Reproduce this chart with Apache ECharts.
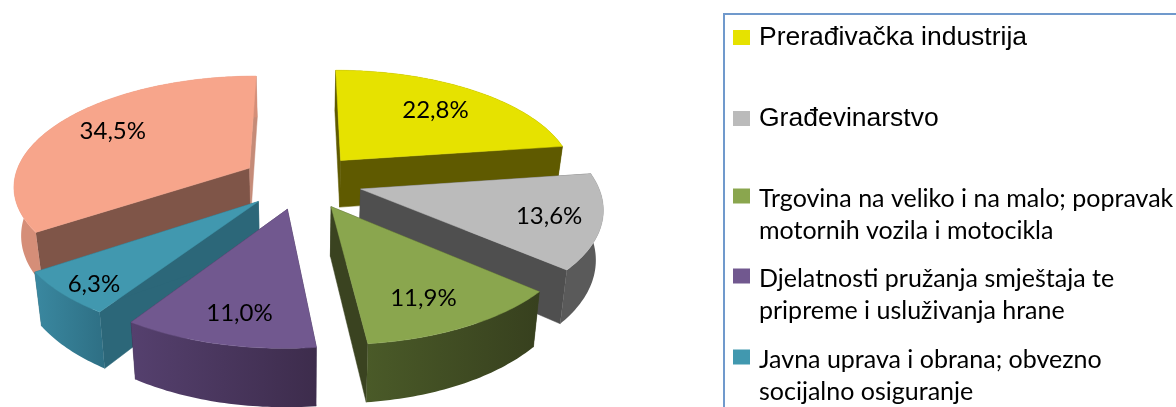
<!DOCTYPE html>
<html><head><meta charset="utf-8">
<style>html,body{margin:0;padding:0;background:#fff}#c{width:1176px;height:407px}</style>
<script src="https://cdn.jsdelivr.net/npm/echarts@6/dist/echarts.min.js"></script>
</head><body><div id="c"></div>
<script>
const categories = [
  'Prerađivačka industrija',
  'Građevinarstvo',
  'Trgovina na veliko i na malo; popravak\nmotornih vozila i motocikla',
  'Djelatnosti pružanja smještaja te\npripreme i usluživanja hrane',
  'Javna uprava i obrana; obvezno\nsocijalno osiguranje',
  'Ostalo'
];
const values = [22.8, 13.6, 11.9, 11.0, 6.3, 34.5];
const labels = ['22,8%', '13,6%', '11,9%', '11,0%', '6,3%', '34,5%'];

const topColors = ['#E6E200', '#BBBBBB', '#8AA64E', '#71588F', '#4198AF', '#F7A58B'];
const startFace = ['#5F5A00', '#4F4F4F', '#3A4320', '#3F2E4E', '#2C6779', '#7F5548'];
const endFace   = ['#5F5A00', '#4F4F4F', '#3A4320', '#3F2E4E', '#2C6779', '#C58B78'];
const rimLeft   = ['#5F5A00', '#5A5A5A', '#4A5A28', '#55406E', '#3A88A0', '#D58E78'];
const rimRight  = ['#5F5A00', '#5A5A5A', '#37401E', '#3D2C4C', '#2E6F84', '#D58E78'];
const labelRadius = [0.68, 0.78, 0.76, 0.78, 0.85, 0.70];
const labelNudge = [[0, 0], [-3, 1], [-10, 1], [6, 0], [4, 4], [1, -3]];
const drawOrder = [1, 3, 5, 6, 4, 2];

// perspective view of the pie plane
const CX = 302, CY = 181, SX = 242, SY = 112, K = 0.1516, EXPLODE = 0.25, RADIUS = 0.975, DEPTH = 48, SHRINK = 0.975;
const total = values.reduce((a, b) => a + b, 0);
const D2R = Math.PI / 180;

function proj(x, y, low) {
  const w = 1 - K * y;
  let sx = CX + SX * x / w;
  let sy = CY + SY * y / w;
  if (low) { sx = CX + (sx - CX) * SHRINK; sy += DEPTH / w; }
  return [sx, sy];
}

function sliceRender(i) {
  return function (params, api) {
    const v = api.value(0);
    let before = 0;
    for (let j = 0; j < i; j++) before += values[j];
    const a0 = before / total * 360;
    const a1 = a0 + v / total * 360;
    const mid = (a0 + a1) / 2 * D2R;
    const ox = EXPLODE * Math.sin(mid), oy = -EXPLODE * Math.cos(mid);
    const pt = (deg, r) => [ox + r * Math.sin(deg * D2R), oy - r * Math.cos(deg * D2R)];
    const arc = [];
    const n = Math.max(8, Math.round(a1 - a0));
    for (let k = 0; k <= n; k++) arc.push(pt(a0 + (a1 - a0) * k / n, RADIUS));
    const topArc = arc.map(p => proj(p[0], p[1], false));
    const lowArc = arc.map(p => proj(p[0], p[1], true));
    const apexT = proj(ox, oy, false), apexL = proj(ox, oy, true);
    const poly = (points, fill) => ({
      type: 'polygon', shape: { points },
      style: { fill, stroke: typeof fill === 'string' ? fill : null, lineWidth: 0.5 }
    });
    const grad = {
      type: 'linear', x: 0, y: 0, x2: 1, y2: 0,
      colorStops: [{ offset: 0, color: rimLeft[i] }, { offset: 1, color: rimRight[i] }]
    };
    const lp = pt((a0 + a1) / 2, labelRadius[i]);
    const lpos = proj(lp[0], lp[1], false);
    return {
      type: 'group',
      children: [
        poly([apexT, topArc[0], lowArc[0], apexL], startFace[i]),
        poly([apexT, topArc[n], lowArc[n], apexL], endFace[i]),
        poly(topArc.concat(lowArc.slice().reverse()), grad),
        poly([apexT].concat(topArc), topColors[i]),
        {
          type: 'text', x: lpos[0] + labelNudge[i][0], y: lpos[1] + labelNudge[i][1],
          style: { text: labels[i], fill: '#000', font: '24px Lato', align: 'center', verticalAlign: 'middle' }
        }
      ]
    };
  };
}

const series = values.map((v, i) => ({
  type: 'custom',
  name: categories[i],
  coordinateSystem: 'none',
  z: drawOrder[i],
  animation: false,
  itemStyle: { color: topColors[i] },
  renderItem: sliceRender(i),
  data: [[v]]
}));

const arialText = { fontFamily: 'Liberation Sans', fontSize: 26.5, lineHeight: 26, color: '#000' };
const lineGap = 32;
const lato = { fontFamily: 'Lato', fontSize: 25, color: '#000', lineHeight: lineGap };
const legendTop = [24, 105, 151, 231, 312];
const legends = [0, 1, 2, 3, 4].map(i => ({
  show: true,
  data: [categories[i]],
  left: 733,
  top: legendTop[i],
  padding: 0,
  itemWidth: 25,
  itemHeight: i < 2 ? 15 : 21,
  itemGap: 0,
  icon: i < 2 ? 'path://M0 0H17V15H0Z' : 'path://M0 0H17V15H0Z M0 21L0 21',
  symbolKeepAspect: true,
  selectedMode: false,
  formatter: i < 2 ? '{name}' : (name => '\n' + name),
  textStyle: i < 2 ? arialText : lato
}));

const chart = echarts.init(document.getElementById('c'), null, { renderer: 'canvas' });
chart.setOption({
  animation: false,
  backgroundColor: '#fff',
  legend: legends,
  graphic: [{
    type: 'rect',
    shape: { x: 724, y: 14, width: 700, height: 700 },
    style: { fill: 'none', stroke: '#7099CC', lineWidth: 2 },
    silent: true
  }],
  series
});
</script></body></html>
